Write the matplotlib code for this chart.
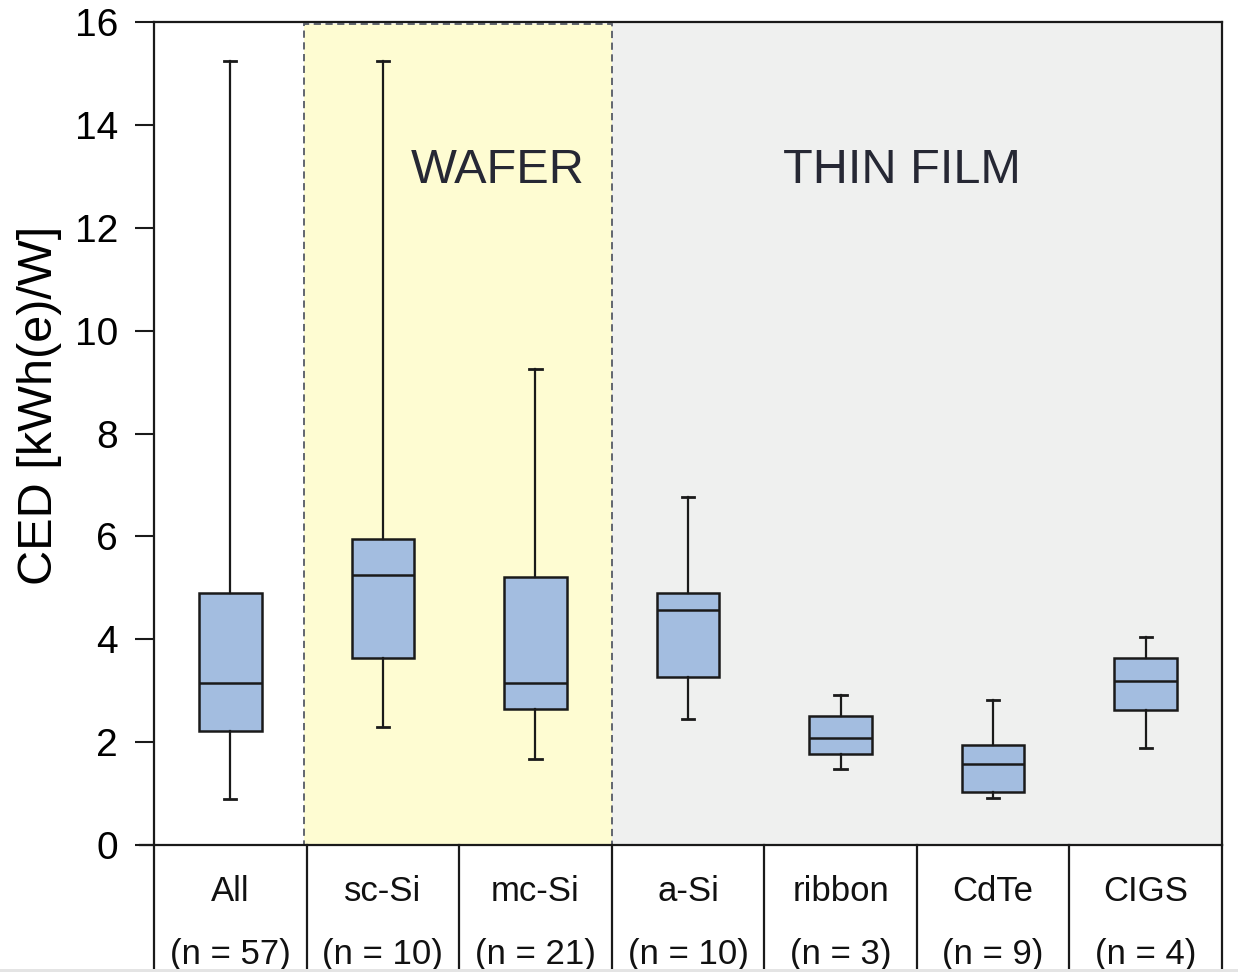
import matplotlib
matplotlib.use("Agg")
import matplotlib.pyplot as plt
from matplotlib.patches import Rectangle
import matplotlib.transforms as mtransforms

plt.rcParams['font.family'] = ['Liberation Sans', 'DejaVu Sans']

categories = ["All", "sc-Si", "mc-Si", "a-Si", "ribbon", "CdTe", "CIGS"]
n_counts = [57, 10, 21, 10, 3, 9, 4]
whisker_low = [0.89, 2.29, 1.67, 2.45, 1.48, 0.91, 1.89]
q1 = [2.22, 3.64, 2.64, 3.27, 1.77, 1.03, 2.62]
medians = [3.15, 5.25, 3.15, 4.57, 2.08, 1.57, 3.19]
q3 = [4.90, 5.95, 5.21, 4.90, 2.51, 1.94, 3.64]
whisker_high = [15.24, 15.24, 9.25, 6.77, 2.92, 2.82, 4.04]
yticks = [0, 2, 4, 6, 8, 10, 12, 14, 16]

fig = plt.figure(figsize=(12.38, 9.72), dpi=100)
W, H = 1238, 972
ax = fig.add_axes([154 / W, 1 - 845 / H, (1222 - 154) / W, (845 - 22) / H])

positions = list(range(len(categories)))

# shaded regions
ax.add_patch(Rectangle((0.48, 0), 2.02, 15.96, facecolor="#fefcd2", edgecolor="#555a66",
                       linestyle=(0, (4, 2.5)), linewidth=1.3, zorder=1))
ax.add_patch(Rectangle((2.5, 0), 4.0, 16, facecolor="#eff0ef", edgecolor="none", zorder=0.5))

stats = []
for i, c in enumerate(categories):
    stats.append(dict(label=c, whislo=whisker_low[i], q1=q1[i], med=medians[i],
                      q3=q3[i], whishi=whisker_high[i], fliers=[]))

ax.bxp(stats, positions=positions, widths=0.41, patch_artist=True, showfliers=False,
       boxprops=dict(facecolor="#a3bde0", edgecolor="#1a1a1a", linewidth=1.8),
       medianprops=dict(color="#1a1a1a", linewidth=1.8),
       whiskerprops=dict(color="#1a1a1a", linewidth=1.6),
       capprops=dict(color="#1a1a1a", linewidth=2.0), capwidths=0.08, zorder=3)

ax.set_xlim(-0.5, 6.5)
ax.set_ylim(0, 16)
ax.set_yticks(yticks)
ax.set_yticklabels([str(t) for t in yticks], fontsize=28)
ax.tick_params(axis='y', direction='out', length=14, width=1.5, pad=12, color="#1a1a1a")
ax.set_xticks([])
for s in ax.spines.values():
    s.set_linewidth(1.6)
    s.set_color("#1a1a1a")
ax.spines['bottom'].set_visible(False)

fig.text(39 / W, 1 - 405 / H, "CED [kWh(e)/W]", fontsize=35, rotation=90,
         ha="center", va="center")

ax.text(1.75, 13.12, "WAFER", fontsize=35, color="#262834", ha="center", va="center", zorder=4)
ax.text(4.40, 13.12, "THIN FILM", fontsize=35, color="#262834", ha="center", va="center", zorder=4)

# table below axis
trans = mtransforms.blended_transform_factory(ax.transData, ax.transAxes)
ybot = -(H - 845) / 823.0 - 0.01
for xb in [p - 0.5 for p in positions] + [positions[-1] + 0.5]:
    ax.plot([xb, xb], [0, ybot], transform=trans, color="#1a1a1a", linewidth=1.6,
            clip_on=False, zorder=5)
ax.plot([-0.5 - 14 / 152.6, 6.5], [0, 0], transform=trans, color="#1a1a1a",
        linewidth=1.6, clip_on=False, zorder=5)

for i, c in enumerate(categories):
    ax.text(positions[i], -(891 - 845) / 823.0, c, transform=trans, fontsize=25,
            ha="center", va="center", color="#111111")
    ax.text(positions[i], -(954 - 845) / 823.0, f"(n = {n_counts[i]})", transform=trans,
            fontsize=25, ha="center", va="center", color="#111111")

# bottom light gray band (screenshot edge)
fig.patches.append(Rectangle((0, 0), 1, 3.5 / H, transform=fig.transFigure,
                             facecolor="#e4e4e4", edgecolor="none", zorder=10))

fig.savefig("out.png", dpi=100)
